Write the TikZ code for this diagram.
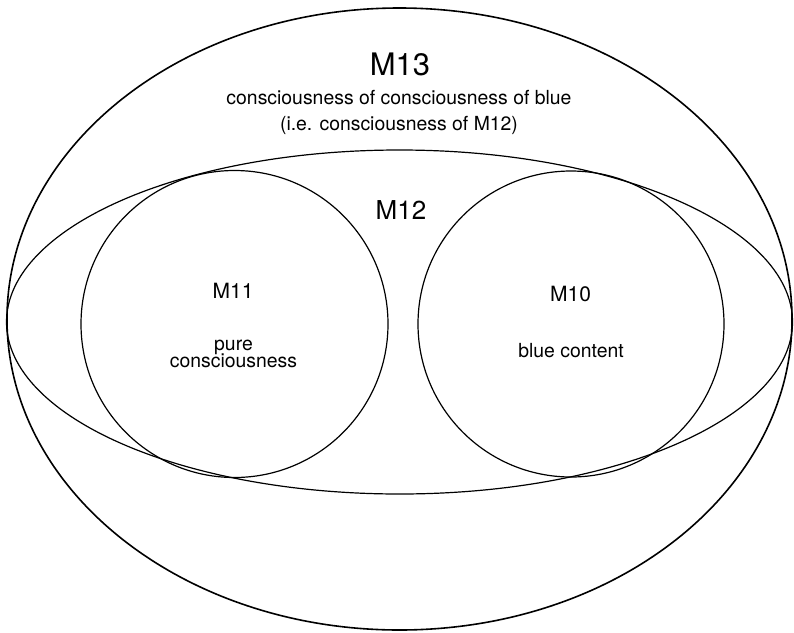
\documentclass[tikz,border=0pt]{standalone}
\usepackage{fontspec}
\setmainfont{TeX Gyre Heros}
\usetikzlibrary{shapes.geometric}
\begin{document}
\begin{tikzpicture}[x=1pt,y=-1pt,
  outline/.style={draw=black, line width=1.6pt, inner sep=0pt, outer sep=0pt},
  inline/.style={draw=black, line width=1.2pt, inner sep=0pt, outer sep=0pt},
  lbl/.style={anchor=base, inner sep=0pt, font=\fontsize{19.4}{19.4}\selectfont},
  biglbl/.style={anchor=base, inner sep=0pt, font=\fontsize{31}{31}\selectfont},
  midlbl/.style={anchor=base, inner sep=0pt, font=\fontsize{26}{26}\selectfont},
  smlbl/.style={anchor=base, inner sep=0pt, font=\fontsize{21}{21}\selectfont}]
\useasboundingbox (0,0) rectangle (794,632);
\node[outline, ellipse, minimum width=785pt, minimum height=622pt] (m13) at (399.5,319) {};
\node[inline, ellipse, minimum width=786pt, minimum height=344pt] (m12) at (399.5,322) {};
\node[inline, circle, minimum size=307pt] (m11) at (234.5,324) {};
\node[inline, circle, minimum size=306pt] (m10) at (571,324) {};
\node[biglbl] (t13) at (400,75) {M13};
\node[lbl] (t13a) at (399,104) {consciousness of consciousness of blue};
\node[lbl] (t13b) at (399,130) {(i.e. consciousness of M12)};
\node[midlbl] (t12) at (401,219) {M12};
\node[smlbl] (t11) at (233,298) {M11};
\node[lbl] (t11a) at (233.5,350) {pure};
\node[lbl] (t11b) at (233.5,367) {consciousness};
\node[smlbl] (t10) at (570.5,301) {M10};
\node[lbl] (t10a) at (571,357) {blue content};
\end{tikzpicture}
\end{document}
